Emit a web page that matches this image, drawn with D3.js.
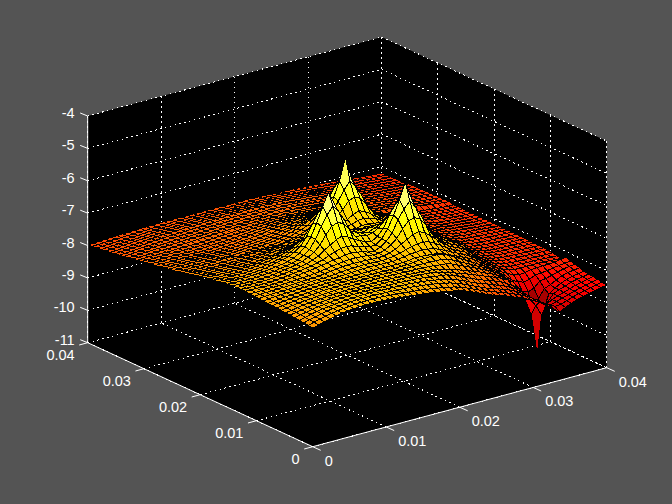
<!DOCTYPE html>
<html><head><meta charset="utf-8">
<script src="https://cdn.jsdelivr.net/npm/d3@7"></script>
<style>html,body{margin:0;padding:0;background:#545454}svg{display:block}text{font-family:"Liberation Sans",Arial,sans-serif;font-size:14.5px;fill:#fff}</style>
</head><body><svg id="c" width="672" height="504"></svg>
<script>
const xTicks=[0,0.01,0.02,0.03,0.04];
const yTicks=[0,0.01,0.02,0.03,0.04];
const zTicks=[-11,-10,-9,-8,-7,-6,-5,-4];
const tickText=v=>v===0?"0":String(v);
// surface height, as -z*100, rows run along y, columns along x
const surfaceDepths=[
[734,729,724,720,716,712,710,708,707,706,706,706,707,709,710,712,714,716,718,720,723,726,729,733,736,740,746,753,761,769,777,784,790,796,803,810,818,826,836,848,860,875,890,880,872,865,860,856,852,848,845],
[732,727,722,718,714,711,709,707,705,704,704,704,704,705,707,708,710,712,714,716,718,721,724,728,731,735,741,748,756,764,772,779,785,791,798,805,813,822,832,845,858,868,878,876,870,864,858,854,850,846,842],
[731,726,722,717,713,711,708,706,704,703,704,703,703,704,705,706,707,708,709,711,713,715,718,721,725,729,735,742,750,758,766,774,780,786,793,800,809,819,830,846,860,870,880,874,868,863,857,852,848,844,840],
[729,725,720,716,713,711,709,707,705,704,704,703,703,703,704,705,705,706,707,708,710,711,714,717,721,725,730,736,743,752,760,767,773,780,787,794,803,814,827,844,862,872,885,875,868,862,856,850,846,842,838],
[728,723,720,716,713,711,709,707,706,705,704,704,704,704,704,705,705,705,706,707,708,709,711,714,717,718,722,729,736,745,752,760,767,773,780,787,797,808,822,842,865,890,925,890,868,860,854,847,843,840,836],
[726,722,719,716,714,712,710,708,707,706,705,705,705,705,705,705,705,705,706,706,707,708,709,710,712,715,720,726,732,739,745,752,759,766,773,780,788,798,810,835,875,925,1054,925,875,862,852,845,840,837,834],
[725,722,719,716,714,712,711,709,708,707,706,706,706,706,706,706,706,707,707,708,708,709,710,711,712,714,718,722,727,733,740,746,753,760,768,775,785,796,810,835,865,890,925,890,865,858,848,840,835,832,830],
[724,721,718,716,714,713,711,709,708,707,706,706,706,706,706,706,706,706,707,707,708,708,709,709,710,711,713,715,717,722,730,738,746,754,763,771,780,791,805,825,845,865,872,865,848,845,840,835,830,827,825],
[723,721,718,716,714,713,711,710,708,707,707,707,707,707,707,707,707,707,707,707,708,708,708,708,708,708,708,709,710,714,722,731,740,750,759,768,777,788,800,815,832,842,848,844,836,834,832,829,826,824,822],
[722,720,718,716,715,714,712,710,709,708,708,708,708,708,708,708,708,708,708,708,709,709,708,707,706,704,703,702,702,705,713,723,733,743,754,764,775,786,796,808,818,826,832,830,826,825,824,823,822,819,816],
[722,720,718,716,715,714,712,711,710,709,708,708,708,708,708,708,707,707,707,707,708,708,708,708,706,703,704,705,706,710,714,723,731,739,748,756,770,782,792,802,812,818,822,822,822,822,822,823,824,825,826],
[721,719,717,716,715,715,713,712,711,710,709,709,709,708,707,706,705,704,704,704,705,705,706,704,701,698,697,695,697,700,708,716,725,734,743,751,764,777,790,800,808,814,818,820,820,821,821,822,823,824,825],
[720,718,717,716,716,716,714,713,712,711,710,710,709,708,706,704,704,703,703,703,704,705,703,701,697,691,686,682,682,686,695,707,719,729,738,746,760,774,788,798,806,812,816,818,819,820,820,821,822,822,822],
[719,718,717,717,716,716,715,714,713,712,711,710,708,705,703,701,700,700,700,701,702,703,702,698,691,680,670,660,656,664,679,695,711,724,734,741,751,768,784,796,804,810,814,816,817,818,818,819,820,820,821],
[718,718,718,717,717,717,716,715,713,712,711,709,707,704,701,698,696,695,694,696,697,700,700,695,684,669,644,624,619,628,653,684,703,719,729,737,747,762,780,794,802,808,812,815,816,817,818,818,819,819,820],
[716,717,717,718,718,718,717,715,713,711,708,706,703,700,697,693,691,687,686,688,692,698,700,692,679,658,622,594,574,598,631,671,696,713,725,733,743,753,772,790,800,806,810,813,815,816,816,817,818,818,819],
[717,718,718,719,719,719,718,716,714,711,709,706,703,698,694,686,680,674,672,675,682,686,692,692,677,652,615,572,522,576,624,665,693,710,722,731,742,752,768,786,798,805,809,812,814,815,815,816,816,817,818],
[718,719,719,720,720,720,719,717,715,712,710,707,703,696,689,675,665,653,647,654,667,675,684,688,677,658,622,594,574,598,631,671,696,713,725,733,743,753,768,786,798,805,809,812,814,815,815,816,816,817,818],
[719,720,721,721,722,722,721,719,716,713,711,707,702,694,684,666,640,618,611,619,642,668,672,676,672,662,644,624,619,628,653,684,703,719,729,737,747,762,772,786,797,804,808,811,813,814,814,815,816,816,817],
[720,721,722,723,723,723,722,720,719,716,713,709,704,694,682,655,620,589,567,590,622,660,667,675,677,669,662,657,654,662,677,695,711,724,734,741,751,765,774,786,796,803,807,810,812,813,814,814,815,816,817],
[722,723,724,724,725,724,723,722,720,717,715,711,705,695,680,654,615,570,530,572,619,657,678,685,683,674,671,670,673,678,688,702,717,729,738,746,760,768,776,786,795,802,806,809,811,812,813,814,815,815,816],
[725,726,727,728,729,727,726,725,723,719,715,711,706,697,684,660,626,596,574,596,628,664,682,688,682,683,684,684,685,690,698,706,717,725,733,742,755,764,774,785,794,800,805,808,810,811,812,813,814,815,816],
[727,728,729,729,730,730,729,728,727,724,721,717,712,705,694,678,652,630,624,631,654,681,692,696,689,690,689,690,695,698,700,708,716,725,734,743,755,764,773,784,793,799,804,807,809,810,811,812,814,815,816],
[730,731,732,732,733,733,732,731,730,727,725,721,717,712,704,692,681,669,663,668,680,688,696,697,694,696,692,692,694,698,704,711,719,727,735,743,755,764,772,782,791,797,802,805,808,809,810,812,814,815,816],
[732,733,734,734,735,735,735,734,733,732,729,726,722,719,714,708,700,694,692,693,695,700,703,698,692,690,683,681,685,691,701,710,719,727,736,744,755,764,772,782,791,797,802,805,808,809,810,812,814,815,816],
[735,736,737,737,738,738,738,738,738,738,735,732,730,727,723,719,715,708,705,703,703,703,700,695,688,682,670,664,671,683,696,709,719,728,735,744,755,763,771,780,788,795,800,804,807,808,810,812,814,815,815],
[739,740,740,741,741,741,741,741,741,740,738,736,734,731,729,727,724,720,717,715,710,705,700,692,677,657,635,628,637,660,686,703,717,727,736,744,755,763,771,780,788,795,800,804,807,808,810,812,814,815,815],
[742,743,743,743,744,744,744,744,744,744,743,742,739,737,734,732,731,726,724,720,716,711,702,689,668,637,607,585,608,638,675,699,715,725,735,744,755,763,771,780,788,795,800,804,807,808,810,812,814,815,815],
[745,746,747,747,748,748,748,748,748,748,747,746,745,742,741,738,736,731,729,727,722,716,708,695,668,631,586,517,587,632,670,697,713,724,734,744,755,763,771,780,788,795,800,804,807,808,810,812,814,815,815],
[749,749,750,750,750,750,750,750,750,749,749,748,747,746,745,745,744,742,738,733,729,722,712,698,675,639,609,587,610,640,677,701,715,727,737,746,757,765,773,780,788,795,800,804,807,808,810,812,814,815,815],
[753,753,752,752,752,752,752,751,751,750,755,754,753,752,751,750,748,745,742,738,731,725,718,704,688,662,640,633,641,663,690,708,722,732,740,748,759,767,774,780,785,791,796,801,805,808,810,812,814,815,815],
[755,755,755,755,755,755,755,755,756,756,757,756,755,755,754,752,750,748,745,741,736,730,722,714,702,690,678,672,679,691,703,717,726,735,743,752,762,769,776,782,786,791,796,801,805,808,810,812,814,815,815],
[757,757,757,757,757,757,757,758,758,759,760,759,758,757,756,755,754,752,749,745,739,735,730,725,717,709,703,701,703,710,717,726,731,739,746,754,764,771,778,783,787,792,797,801,805,808,810,812,814,815,815],
[760,760,760,760,760,760,761,761,762,762,763,762,761,760,759,758,757,755,753,748,743,740,737,733,728,724,720,719,721,725,728,733,738,744,751,757,766,773,780,785,789,793,798,802,805,808,810,812,814,815,815],
[763,763,763,763,763,763,764,764,765,765,766,765,764,763,762,760,759,757,755,752,747,744,741,739,736,733,731,730,732,734,736,740,743,749,755,760,769,776,782,787,790,794,798,802,806,808,810,812,814,815,815],
[765,765,766,766,766,766,767,767,768,768,768,767,766,765,763,762,760,758,756,753,750,748,746,743,741,740,739,738,739,741,743,746,749,753,759,764,770,775,780,783,785,789,793,796,798,800,803,806,808,810,812],
[767,767,768,768,768,768,769,769,770,770,770,769,768,767,765,764,762,760,758,756,754,752,750,748,747,746,745,745,746,747,749,752,755,759,763,767,772,777,781,784,786,790,794,797,799,801,804,807,809,811,812],
[769,769,770,770,770,770,771,771,771,771,771,770,769,768,767,766,764,763,761,759,758,756,755,753,752,752,751,751,752,753,755,757,760,763,767,769,774,778,782,785,787,791,795,798,800,802,805,807,809,811,812],
[772,772,772,772,772,772,772,772,772,772,772,771,770,769,768,767,766,765,764,762,761,760,759,758,757,757,757,757,757,758,760,762,764,767,769,771,775,779,783,786,788,791,795,798,800,802,805,807,809,811,812],
[775,775,774,774,774,774,774,773,773,773,773,772,771,770,769,768,767,766,765,764,764,763,763,762,762,762,762,762,762,763,764,766,768,770,772,773,777,781,784,787,789,792,796,798,800,803,805,808,810,811,813],
[777,777,776,776,775,775,775,774,773,773,772,771,770,769,768,768,767,766,766,765,765,765,765,765,765,765,765,765,765,766,767,768,770,772,774,775,778,781,784,787,790,793,796,798,801,804,806,808,810,812,813],
[780,779,778,777,777,776,776,775,775,774,773,773,772,771,770,770,769,768,768,768,767,767,767,767,767,767,767,767,767,768,769,771,773,775,777,777,780,783,786,789,791,794,797,800,803,805,807,809,811,812,813],
[782,781,780,780,779,778,777,777,776,775,775,774,773,773,772,771,771,770,770,770,769,769,769,769,769,767,767,767,768,769,770,772,774,776,778,778,781,784,787,790,792,795,798,801,803,805,807,809,811,812,814],
[785,784,783,782,781,780,779,778,777,776,776,775,775,774,773,772,772,772,771,771,771,770,770,770,770,769,769,769,770,770,771,773,775,777,779,780,783,786,788,791,792,795,798,801,804,806,808,810,811,813,814],
[787,786,785,784,783,782,780,779,778,777,777,776,776,775,775,774,773,773,772,772,772,771,771,771,771,770,770,770,771,772,773,775,776,778,780,781,784,787,789,792,793,796,799,802,805,806,808,810,812,814,815],
[789,788,787,786,785,784,782,781,780,778,778,777,777,776,776,775,774,774,773,773,773,772,772,771,771,771,771,771,772,773,774,776,778,780,782,783,785,788,791,793,794,797,800,803,806,807,810,812,814,816,817],
[791,790,789,788,787,786,785,784,783,782,781,780,780,779,779,778,778,777,777,777,776,776,776,776,776,775,775,776,776,777,778,780,782,783,785,786,788,790,793,795,796,799,802,805,807,808,811,813,815,816,818],
[793,792,791,790,790,789,788,787,786,785,784,784,783,783,782,782,781,781,781,780,780,780,780,780,780,780,780,780,781,781,782,784,785,787,789,790,791,793,795,797,798,801,804,806,808,809,812,814,816,817,818],
[795,794,793,792,792,791,790,790,789,788,788,787,787,786,786,786,785,785,785,785,785,785,785,785,785,785,785,785,785,786,786,787,788,790,791,792,794,796,798,799,800,803,805,807,809,810,813,815,817,818,819],
[796,796,795,794,793,793,792,792,791,791,790,790,789,789,788,788,788,788,788,788,788,788,788,788,788,788,788,788,788,789,789,790,791,792,793,794,796,798,799,801,802,804,806,808,810,811,814,816,818,819,820],
[798,797,796,795,794,794,793,792,792,791,791,791,790,790,790,790,790,790,790,790,790,790,790,790,790,790,790,790,791,791,792,793,794,795,795,796,797,799,800,802,803,805,807,809,810,812,814,816,817,819,820]
];
const surface=surfaceDepths.map(r=>r.map(d=>-d/100));
const cols=surface[0].length, rows=surface.length;
const xGrid=d3.range(cols).map(i=>0.04*i/(cols-1));
const yGrid=d3.range(rows).map(j=>0.04*j/(rows-1));

const xAcross=d3.scaleLinear([0,0.04],[0,294]), xRise=d3.scaleLinear([0,0.04],[0,79]);
const yAcross=d3.scaleLinear([0,0.04],[0,225]), yRise=d3.scaleLinear([0,0.04],[0,104]);
const zRise=d3.scaleLinear([-11,-4],[0,226.7]);
const ox=312.7, oy=446.7;
const px=(x,y)=>ox+xAcross(x)-yAcross(y);
const py=(x,y,z)=>oy-xRise(x)-yRise(y)-zRise(z);
const P=(x,y,z)=>[px(x,y),py(x,y,z)];
const [zMin,zMax]=d3.extent(surface.flat());
const hotStops=[0,0.375,0.75,1];
const hot=d3.scaleLinear().domain(hotStops.map(t=>zMin+t*(zMax-zMin))).range(["#0b0000","#ff0000","#ffff00","#ffffff"]).clamp(true);

const svg=d3.select("#c");
svg.append("rect").attr("width",672).attr("height",504).attr("fill","#545454");
const X1=0.04,Y1=0.04,Z0=-11,Z1=-4;
const poly=pts=>pts.map(p=>p.map(v=>v.toFixed(1)).join(",")).join(" ");
svg.append("polygon").attr("points",poly([P(0,Y1,Z1),P(X1,Y1,Z1),P(X1,0,Z1),P(X1,0,Z0),P(0,0,Z0),P(0,Y1,Z0)])).attr("fill","#000");

const grid=svg.append("g").attr("stroke","#fff").attr("stroke-width",1).attr("stroke-dasharray","1.5 3.5").attr("fill","none").attr("shape-rendering","crispEdges");
const seg=(a,b)=>grid.append("line").attr("x1",a[0]).attr("y1",a[1]).attr("x2",b[0]).attr("y2",b[1]);
xTicks.forEach(x=>{seg(P(x,0,Z0),P(x,Y1,Z0));seg(P(x,Y1,Z0),P(x,Y1,Z1));});
yTicks.forEach(y=>{seg(P(0,y,Z0),P(X1,y,Z0));seg(P(X1,y,Z0),P(X1,y,Z1));});
zTicks.forEach(z=>{seg(P(0,Y1,z),P(X1,Y1,z));seg(P(X1,Y1,z),P(X1,0,z));});

const mesh=svg.append("g").attr("stroke","#000").attr("stroke-width",1).attr("shape-rendering","crispEdges");
for(let j=rows-2;j>=0;j--)for(let i=cols-2;i>=0;i--){
  const a=P(xGrid[i],yGrid[j],surface[j][i]),b=P(xGrid[i+1],yGrid[j],surface[j][i+1]),c=P(xGrid[i+1],yGrid[j+1],surface[j+1][i+1]),d=P(xGrid[i],yGrid[j+1],surface[j+1][i]);
  mesh.append("polygon").attr("points",poly([a,b,c,d])).attr("fill",hot(surface[j][i]));
}

const axes=svg.append("g").attr("stroke","#fff").attr("stroke-width",1).attr("fill","none");
const line=(a,b)=>axes.append("line").attr("x1",a[0]).attr("y1",a[1]).attr("x2",b[0]).attr("y2",b[1]);
line(P(0,Y1,Z0),P(0,0,Z0));line(P(0,0,Z0),P(X1,0,Z0));line(P(0,Y1,Z0),P(0,Y1,Z1));
const labels=svg.append("g");
xTicks.forEach(x=>{const p=P(x,0,Z0);line(p,[p[0]+8,p[1]+3.6]);
  labels.append("text").attr("x",p[0]+12).attr("y",p[1]+19).attr("text-anchor","start").text(tickText(x));});
yTicks.forEach(y=>{const p=P(0,y,Z0);line(p,[p[0]-8.5,p[1]+2.3]);
  labels.append("text").attr("x",p[0]-13).attr("y",p[1]+17).attr("text-anchor","end").text(tickText(y));});
zTicks.forEach(z=>{const p=P(0,Y1,z);line(p,[p[0]-7.5,p[1]-3]);
  labels.append("text").attr("x",p[0]-13).attr("y",p[1]+2).attr("text-anchor","end").text(z);});
</script></body></html>
